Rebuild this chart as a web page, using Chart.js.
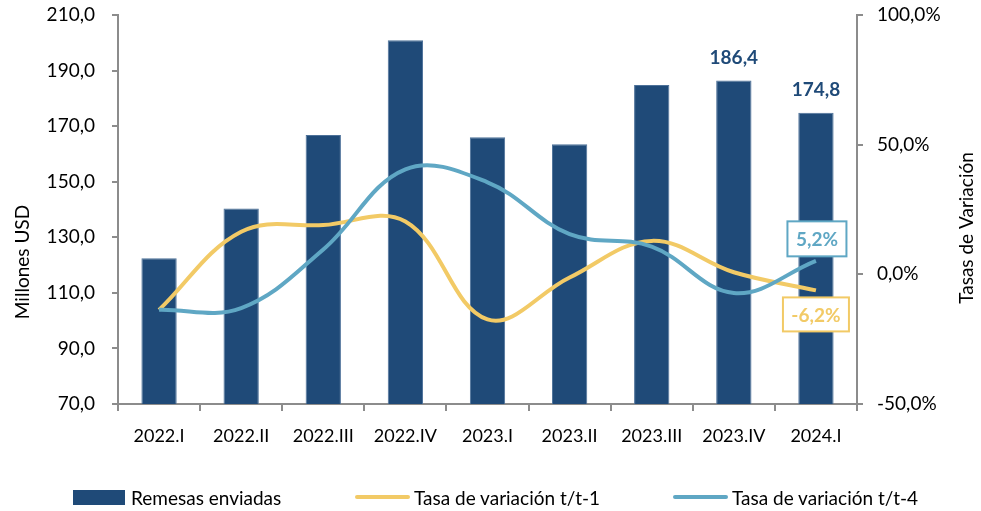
<!DOCTYPE html>
<html>
<head>
<meta charset="utf-8">
<script src="https://cdn.jsdelivr.net/npm/chart.js@4"></script>
<style>
  body { margin: 0; background: #fff; }
  #wrap { position: relative; width: 981px; height: 511px; }
  #legend { position: absolute; left: 0; top: 484px; width: 981px; height: 26px; font-family: Lato, sans-serif; font-size: 19px; color: #000; }
  .item { position: absolute; top: 0; display: flex; align-items: center; height: 26px; }
  .box { width: 52px; height: 15px; background: #1f4a78; margin-right: 6px; }
  .ln { width: 55px; height: 4px; border-radius: 2px; margin-right: 4px; }
</style>
</head>
<body>
<div id="wrap">
  <canvas id="canvas" width="981" height="511"></canvas>
  <div id="legend">
    <div class="item" style="left:73px"><div class="box"></div>Remesas enviadas</div>
    <div class="item" style="left:355px"><div class="ln" style="background:#f2ca66"></div>Tasa de variación t/t-1</div>
    <div class="item" style="left:673px"><div class="ln" style="background:#5fa7c4"></div>Tasa de variación t/t-4</div>
  </div>
</div>
<script>
const quarters = ['2022.I','2022.II','2022.III','2022.IV','2023.I','2023.II','2023.III','2023.IV','2024.I']
const remesas = [122.5, 140.4, 166.8, 200.9, 166.0, 163.5, 184.8, 186.4, 174.8]
const tasaT1 = [-13.7, 16.4, 19.0, 20.4, -17.4, -1.2, 12.9, 0.8, -6.2]
const tasaT4 = [-13.7, -13.0, 9.6, 40.5, 35.5, 15.5, 10.7, -7.2, 5.2]

const navy = '#1f4a78'
const yellow = '#f2ca66'
const blue = '#5fa7c4'
const axisGray = '#8c8c8c'
const font = 'Lato, sans-serif'

function fmt(v, d) {
  return v.toFixed(d).replace('.', ',')
}

// labels on the last bars and last line points, plus axis titles
const labelsPlugin = {
  id: 'labelsPlugin',
  afterDatasetsDraw(chart) {
    const ctx = chart.ctx
    ctx.save()
    ctx.textAlign = 'center'
    ctx.textBaseline = 'middle'
    ctx.font = 'bold 19px ' + font

    const bars = chart.getDatasetMeta(0).data
    ;[7, 8].forEach(i => {
      ctx.fillStyle = navy
      ctx.fillText(fmt(remesas[i], 1), bars[i].x, bars[i].y - 23)
    })

    const last = quarters.length - 1
    const p4 = chart.getDatasetMeta(2).data[last]
    const p1 = chart.getDatasetMeta(1).data[last]

    function box(text, x, y, w, h, col) {
      ctx.fillStyle = '#fff'
      ctx.fillRect(x - w / 2, y - h / 2, w, h)
      ctx.strokeStyle = col
      ctx.lineWidth = 2
      ctx.strokeRect(x - w / 2, y - h / 2, w, h)
      ctx.fillStyle = col
      ctx.fillText(text, x, y + 1)
    }
    box(fmt(tasaT4[last], 1) + '%', p4.x + 1, p4.y - 22, 59, 35, blue)
    box(fmt(tasaT1[last], 1) + '%', p1.x, p1.y + 24, 66, 34, yellow)

    ctx.font = '19px ' + font
    ctx.fillStyle = '#000'
    ctx.translate(23, 262)
    ctx.rotate(-Math.PI / 2)
    ctx.fillText('Millones USD', 0, 0)
    ctx.restore()

    ctx.save()
    ctx.font = '19px ' + font
    ctx.fillStyle = '#000'
    ctx.textAlign = 'center'
    ctx.textBaseline = 'middle'
    ctx.translate(967, 228)
    ctx.rotate(-Math.PI / 2)
    ctx.fillText('Tasas de Variación', 0, 0)
    ctx.restore()
  }
}

function fixY(width) {
  return function (scale) {
    scale.width = width
    scale.paddingTop = 0
    scale.paddingBottom = 0
  }
}

const ctx = document.getElementById('canvas').getContext('2d')
const myChart = new Chart(ctx, {
  type: 'bar',
  data: {
    labels: quarters,
    datasets: [
      {
        label: 'Tasa de variación t/t-4',
        type: 'line',
        data: tasaT4,
        yAxisID: 'y1',
        borderColor: blue,
        borderWidth: 4,
        pointRadius: 0,
        tension: 0.38,
        fill: false,
        order: 0
      },
      {
        label: 'Tasa de variación t/t-1',
        type: 'line',
        data: tasaT1,
        yAxisID: 'y1',
        borderColor: yellow,
        borderWidth: 4,
        pointRadius: 0,
        tension: 0.38,
        fill: false,
        order: 1
      },
      {
        label: 'Remesas enviadas',
        data: remesas,
        yAxisID: 'y',
        backgroundColor: navy,
        borderColor: '#4d7199',
        borderWidth: 1,
        barPercentage: 0.43,
        categoryPercentage: 1,
        order: 2
      }
    ].reverse()
  },
  options: {
    responsive: false,
    animation: false,
    layout: { padding: { top: 15, bottom: 0, left: 0, right: 0 } },
    plugins: {
      legend: { display: false },
      tooltip: { enabled: false }
    },
    scales: {
      x: {
        grid: { display: true, drawOnChartArea: false, drawTicks: true, tickLength: 7, color: axisGray, lineWidth: 2, offset: true },
        border: { color: axisGray, width: 2 },
        ticks: { color: '#000', font: { family: font, size: 18 }, padding: 14 },
        afterFit(scale) {
          scale.height = 107
          scale.paddingLeft = 0
          scale.paddingRight = 0
        }
      },
      y: {
        position: 'left',
        min: 70,
        max: 210,
        grid: { display: true, drawOnChartArea: false, drawTicks: true, tickLength: 6, color: axisGray, lineWidth: 2 },
        border: { color: axisGray, width: 2 },
        ticks: { stepSize: 20, color: '#000', font: { family: font, size: 19 }, padding: 17, callback: v => fmt(v, 1) },
        afterFit: fixY(118)
      },
      y1: {
        position: 'right',
        min: -50,
        max: 100,
        grid: { display: true, drawOnChartArea: false, drawTicks: true, tickLength: 6, color: axisGray, lineWidth: 2 },
        border: { color: axisGray, width: 2 },
        ticks: { stepSize: 50, color: '#000', font: { family: font, size: 19 }, padding: 14, callback: v => fmt(v, 1) + '%' },
        afterFit: fixY(124)
      }
    }
  },
  plugins: [labelsPlugin]
})
</script>
</body>
</html>
